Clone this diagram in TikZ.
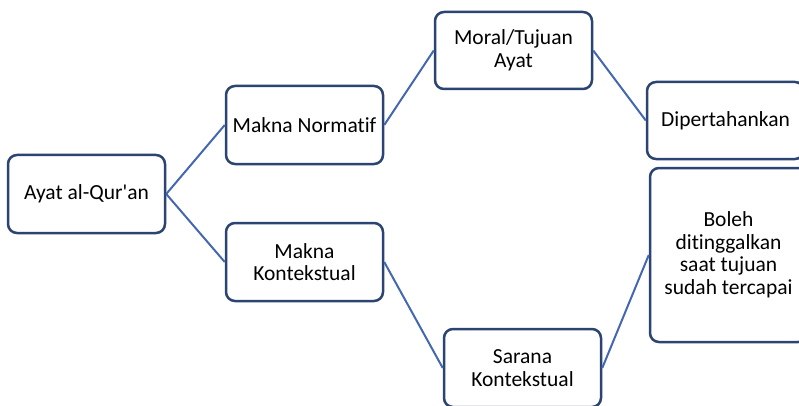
\documentclass[tikz,border=0pt]{standalone}
\usepackage{fontspec}
\setmainfont{Carlito}[Ligatures={NoCommon,TeXOff}]
\begin{document}
\begin{tikzpicture}[x=1pt,y=-1pt,
  box/.style={draw=boxc, line width=2.5pt, rounded corners=9pt, fill=white,
    minimum width=157pt, minimum height=78pt, align=center, inner sep=2pt,
    font=\fontsize{21.5}{22.5}\selectfont, text=black},
  link/.style={draw=linkc, line width=2pt}]
\definecolor{boxc}{HTML}{2B4472}
\definecolor{linkc}{HTML}{4468B0}
\useasboundingbox (0,0) rectangle (799,406);
\clip (0,0) rectangle (799,406);
\node[box] (ayat) at (86.5,194) {Ayat al-Qur'an};
\node[box] (mn) at (304.5,125) {Makna Normatif};
\node[box] (mk) at (304.5,262) {Makna\\Kontekstual};
\node[box, minimum height=77pt] (moral) at (513.5,50.5) {Moral/Tujuan\\Ayat};
\node[box, minimum height=77pt] (dip) at (725.5,120.5) {Dipertahankan};
\node[box, minimum height=174pt] (boleh) at (728.5,255) {Boleh\\ditinggalkan\\saat tujuan\\sudah tercapai};
\node[box] (sarana) at (522.5,368) {Sarana\\Kontekstual};
\draw[link] (ayat.east) -- (mn.west);
\draw[link] (ayat.east) -- (mk.west);
\draw[link] (mn.east) -- (moral.west);
\draw[link] (moral.east) -- (dip.west);
\draw[link] (mk.east) -- (sarana.west);
\draw[link] (sarana.east) -- (boleh.west);
\end{tikzpicture}
\end{document}
